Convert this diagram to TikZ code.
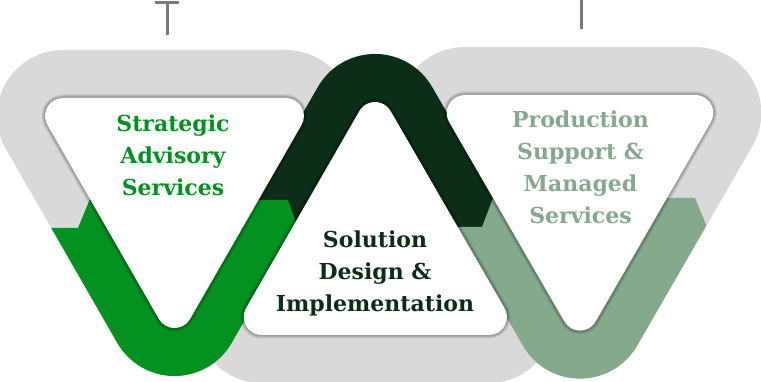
\documentclass[tikz,border=0pt]{standalone}
\usepackage{fontspec}
\setmainfont{DejaVu Serif}
\usetikzlibrary{calc}
\definecolor{bandgray}{HTML}{D9D9D9}
\definecolor{vgreen}{HTML}{03921F}
\definecolor{dgreen}{HTML}{0C2D17}
\definecolor{sage}{HTML}{84A98D}
\definecolor{tgray}{HTML}{7A7A7A}
% rounded inverted triangle: core TL, TR, B, radius
\newcommand\invtri[4]{($(#1)+(-90:#4)$) -- ($(#2)+(-90:#4)$) arc[start angle=-90,end angle=30,radius=#4] -- ($(#3)+(30:#4)$) arc[start angle=30,end angle=150,radius=#4] -- ($(#1)+(150:#4)$) arc[start angle=150,end angle=270,radius=#4] -- cycle}
% rounded upright triangle: core BL, apex, BR, radius
\newcommand\uptri[4]{($(#1)+(210:#4)$) -- ($(#2)+(210:#4)$) arc[start angle=210,end angle=330,radius=#4] -- ($(#3)+(330:#4)$) arc[start angle=330,end angle=450,radius=#4] -- ($(#1)+(90:#4)$) arc[start angle=90,end angle=210,radius=#4] -- cycle}
\begin{document}
\begin{tikzpicture}[x=1pt,y=-1pt,
  lbl/.style={font=\fontsize{22}{32}\selectfont\bfseries, align=center, inner sep=0pt, anchor=base},
  tline/.style={draw=tgray, line width=3pt},
  shade/.style={fill=black, opacity=0.09}]
\useasboundingbox (0,0) rectangle (761,382);
\fill[white] (0,0) rectangle (761,382);
\clip (0,0) rectangle (761,382);
% core vertices
\coordinate (LTL) at (63.1,116);
\coordinate (LTR) at (285.9,116);
\coordinate (LB) at (174.5,310);
\coordinate (MBL) at (261.7,317);
\coordinate (MA) at (375,120);
\coordinate (MBR) at (488.9,317);
\coordinate (RTL) at (464.7,113);
\coordinate (RTR) at (695.3,113);
\coordinate (RB) at (580,312.6);
% gray bands
\fill[bandgray] \invtri{LTL}{LTR}{LB}{66};
\fill[bandgray] \invtri{RTL}{RTR}{RB}{66};
\fill[bandgray] \uptri{MBL}{MA}{MBR}{66};
% dark green top of middle
\begin{scope}
  \clip (0,-10) rectangle (761,228);
  \fill[dgreen] \uptri{MBL}{MA}{MBR}{66};
\end{scope}
% bright green bottom of left
\begin{scope}
  \clip (-60,228) -- (78,228) -- (92.4,193.2) -- (175,260) -- (250,200) -- (288,200) -- (300.1,234) -- (420,234) -- (420,440) -- (-60,440) -- cycle;
  \fill[vgreen] \invtri{LTL}{LTR}{LB}{66};
\end{scope}
% sage bottom of right
\begin{scope}
  \clip (430,227) -- (482,227) -- (495,193) -- (580,260) -- (660,198) -- (695,198) -- (709.4,232.8) -- (800,232.8) -- (800,440) -- (430,440) -- cycle;
  \fill[sage] \invtri{RTL}{RTR}{RB}{66};
\end{scope}
% shadows and white interiors
\begin{scope}[shift={(0,-6)}]
  \foreach \rr in {21.5,20.5,19.5,18.5} { \fill[shade] \invtri{LTL}{LTR}{LB}{\rr}; }
  \foreach \rr in {21.5,20.5,19.5,18.5} { \fill[shade] \invtri{RTL}{RTR}{RB}{\rr}; }
\end{scope}
\begin{scope}[shift={(3,4)}]
  \foreach \rr in {21.5,20.5,19.5,18.5} { \fill[shade] \uptri{MBL}{MA}{MBR}{\rr}; }
\end{scope}
\fill[white] \invtri{LTL}{LTR}{LB}{18};
\fill[white] \invtri{RTL}{RTR}{RB}{18};
\fill[white] \uptri{MBL}{MA}{MBR}{18};
% labels (base anchor = baseline of the last line)
\node[lbl, text=vgreen] (sas) at (173,196) {Strategic\\Advisory\\Services};
\node[lbl, text=dgreen] (sdi) at (375,312) {Solution\\Design \&\\Implementation};
\node[lbl, text=sage] (psm) at (580.5,224) {Production\\Support \&\\Managed\\Services};
% marks at the top
\coordinate (t1a) at (155,3);
\coordinate (t1b) at (179,3);
\coordinate (t1c) at (167,3);
\coordinate (t1d) at (167,35);
\coordinate (t2a) at (581.5,-2);
\coordinate (t2b) at (581.5,29);
\draw[tline] (t1a) -- (t1b);
\draw[tline] (t1c) -- (t1d);
\draw[tline] (t2a) -- (t2b);
\end{tikzpicture}
\end{document}
